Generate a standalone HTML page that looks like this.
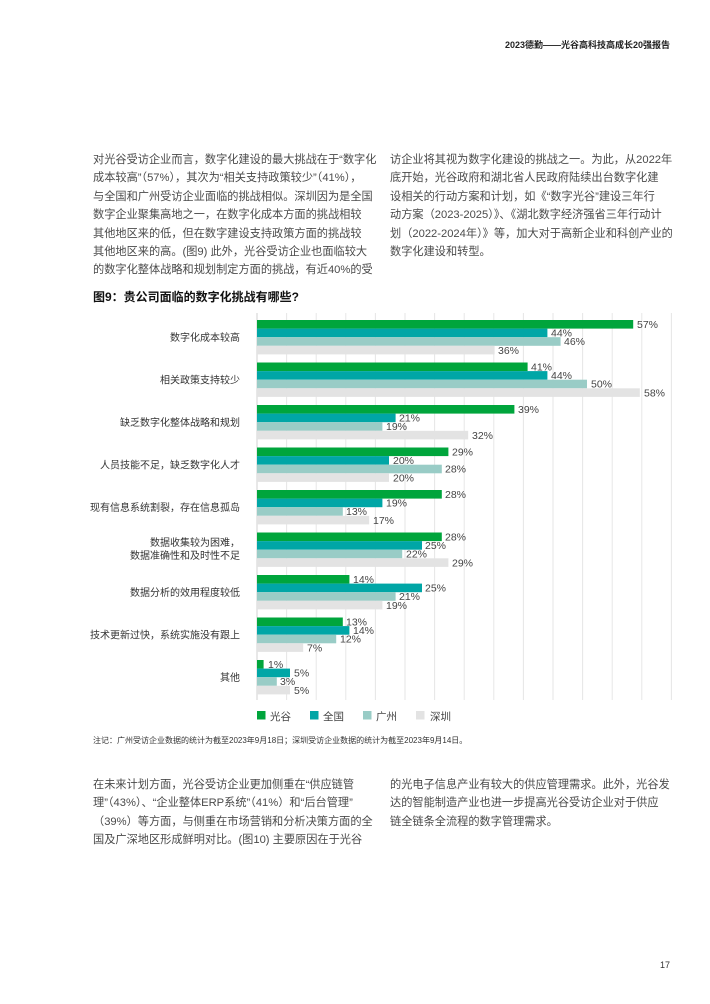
<!DOCTYPE html>
<html><head><meta charset="utf-8"><style>
body{margin:0;background:#fff;}
.pg{position:relative;width:710px;height:1004px;overflow:hidden;font-family:"Liberation Sans","Noto Sans CJK SC",sans-serif;color:#333;}
.t{position:absolute;font-size:11.2px;line-height:18.4px;white-space:nowrap;color:#4a4a4a;}
svg text{font-family:"Liberation Sans","Noto Sans CJK SC",sans-serif;}
</style></head><body><div class="pg">
<div style="position:absolute;right:40px;top:38px;font-size:9px;font-weight:bold;color:#222">2023德勤——光谷高科技高成长20强报告</div>
<div class="t" style="left:93px;top:151px">对光谷受访企业而言，数字化建设的最大挑战在于“数字化<br>成本较高”（57%），其次为“相关支持政策较少”（41%），<br>与全国和广州受访企业面临的挑战相似。深圳因为是全国<br>数字企业聚集高地之一，在数字化成本方面的挑战相较<br>其他地区来的低，但在数字建设支持政策方面的挑战较<br>其他地区来的高。(图9) 此外，光谷受访企业也面临较大<br>的数字化整体战略和规划制定方面的挑战，有近40%的受</div>
<div class="t" style="left:390px;top:151px">访企业将其视为数字化建设的挑战之一。为此，从2022年<br>底开始，光谷政府和湖北省人民政府陆续出台数字化建<br>设相关的行动方案和计划，如《“数字光谷”建设三年行<br>动方案（2023-2025）》、《湖北数字经济强省三年行动计<br>划（2022-2024年）》等，加大对于高新企业和科创产业的<br>数字化建设和转型。</div>
<div style="position:absolute;left:93px;top:288px;font-size:12px;font-weight:bold;color:#111">图9：贵公司面临的数字化挑战有哪些?</div>
<svg style="position:absolute;left:0;top:0" width="710" height="1004">
<g stroke="#e6e6e6" stroke-width="1">
<line x1="286.6" y1="313" x2="286.6" y2="700"/><line x1="316.2" y1="313" x2="316.2" y2="700"/><line x1="345.8" y1="313" x2="345.8" y2="700"/><line x1="375.4" y1="313" x2="375.4" y2="700"/><line x1="405" y1="313" x2="405" y2="700"/><line x1="434.6" y1="313" x2="434.6" y2="700"/><line x1="464.2" y1="313" x2="464.2" y2="700"/><line x1="493.8" y1="313" x2="493.8" y2="700"/><line x1="523.4" y1="313" x2="523.4" y2="700"/><line x1="553" y1="313" x2="553" y2="700"/><line x1="582.6" y1="313" x2="582.6" y2="700"/><line x1="612.2" y1="313" x2="612.2" y2="700"/><line x1="641.8" y1="313" x2="641.8" y2="700"/><line x1="671.4" y1="313" x2="671.4" y2="700"/>
</g>
<line x1="257" y1="313" x2="257" y2="700" stroke="#d0d0d0"/>
<g font-size="10.5" fill="#444">
<rect x="257" y="320" width="376.2" height="8.6" fill="#00a53c"/><rect x="257" y="328.6" width="290.4" height="8.6" fill="#00a6a6"/><rect x="257" y="337.2" width="303.6" height="8.6" fill="#99ccc6"/><rect x="257" y="345.8" width="237.6" height="8.6" fill="#e3e3e3"/>
<text x="637" y="328">57%</text><text x="551" y="336.6">44%</text><text x="564" y="345.2">46%</text><text x="498" y="353.8">36%</text>
<rect x="257" y="362.5" width="270.6" height="8.6" fill="#00a53c"/><rect x="257" y="371.1" width="290.4" height="8.6" fill="#00a6a6"/><rect x="257" y="379.7" width="330" height="8.6" fill="#99ccc6"/><rect x="257" y="388.3" width="382.8" height="8.6" fill="#e3e3e3"/>
<text x="531" y="370.5">41%</text><text x="551" y="379.1">44%</text><text x="591" y="387.7">50%</text><text x="644" y="396.3">58%</text>
<rect x="257" y="405" width="257.4" height="8.6" fill="#00a53c"/><rect x="257" y="413.6" width="138.6" height="8.6" fill="#00a6a6"/><rect x="257" y="422.2" width="125.4" height="8.6" fill="#99ccc6"/><rect x="257" y="430.8" width="211.2" height="8.6" fill="#e3e3e3"/>
<text x="518" y="413">39%</text><text x="399" y="421.6">21%</text><text x="386" y="430.2">19%</text><text x="472" y="438.8">32%</text>
<rect x="257" y="447.5" width="191.4" height="8.6" fill="#00a53c"/><rect x="257" y="456.1" width="132" height="8.6" fill="#00a6a6"/><rect x="257" y="464.7" width="184.8" height="8.6" fill="#99ccc6"/><rect x="257" y="473.3" width="132" height="8.6" fill="#e3e3e3"/>
<text x="452" y="455.5">29%</text><text x="393" y="464.1">20%</text><text x="445" y="472.7">28%</text><text x="393" y="481.3">20%</text>
<rect x="257" y="490" width="184.8" height="8.6" fill="#00a53c"/><rect x="257" y="498.6" width="125.4" height="8.6" fill="#00a6a6"/><rect x="257" y="507.2" width="85.8" height="8.6" fill="#99ccc6"/><rect x="257" y="515.8" width="112.2" height="8.6" fill="#e3e3e3"/>
<text x="445" y="498">28%</text><text x="386" y="506.6">19%</text><text x="346" y="515.2">13%</text><text x="373" y="523.8">17%</text>
<rect x="257" y="532.5" width="184.8" height="8.6" fill="#00a53c"/><rect x="257" y="541.1" width="165" height="8.6" fill="#00a6a6"/><rect x="257" y="549.7" width="145.2" height="8.6" fill="#99ccc6"/><rect x="257" y="558.3" width="191.4" height="8.6" fill="#e3e3e3"/>
<text x="445" y="540.5">28%</text><text x="425" y="549.1">25%</text><text x="406" y="557.7">22%</text><text x="452" y="566.3">29%</text>
<rect x="257" y="575" width="92.4" height="8.6" fill="#00a53c"/><rect x="257" y="583.6" width="165" height="8.6" fill="#00a6a6"/><rect x="257" y="592.2" width="138.6" height="8.6" fill="#99ccc6"/><rect x="257" y="600.8" width="125.4" height="8.6" fill="#e3e3e3"/>
<text x="353" y="583">14%</text><text x="425" y="591.6">25%</text><text x="399" y="600.2">21%</text><text x="386" y="608.8">19%</text>
<rect x="257" y="617.5" width="85.8" height="8.6" fill="#00a53c"/><rect x="257" y="626.1" width="92.4" height="8.6" fill="#00a6a6"/><rect x="257" y="634.7" width="79.2" height="8.6" fill="#99ccc6"/><rect x="257" y="643.3" width="46.2" height="8.6" fill="#e3e3e3"/>
<text x="346" y="625.5">13%</text><text x="353" y="634.1">14%</text><text x="340" y="642.7">12%</text><text x="307" y="651.3">7%</text>
<rect x="257" y="660" width="6.6" height="8.6" fill="#00a53c"/><rect x="257" y="668.6" width="33" height="8.6" fill="#00a6a6"/><rect x="257" y="677.2" width="19.8" height="8.6" fill="#99ccc6"/><rect x="257" y="685.8" width="33" height="8.6" fill="#e3e3e3"/>
<text x="268" y="668">1%</text><text x="294" y="676.6">5%</text><text x="280" y="685.2">3%</text><text x="294" y="693.8">5%</text>
</g>
<g font-size="10" fill="#333" text-anchor="end">
<text x="240" y="341">数字化成本较高</text>
<text x="240" y="383.5">相关政策支持较少</text>
<text x="240" y="426">缺乏数字化整体战略和规划</text>
<text x="240" y="468.5">人员技能不足，缺乏数字化人才</text>
<text x="240" y="511">现有信息系统割裂，存在信息孤岛</text>
<text x="240" y="546">数据收集较为困难，</text>
<text x="240" y="559">数据准确性和及时性不足</text>
<text x="240" y="596">数据分析的效用程度较低</text>
<text x="240" y="638.5">技术更新过快，系统实施没有跟上</text>
<text x="240" y="681">其他</text>
</g>
<g font-size="10.5" fill="#444">
<rect x="257" y="711" width="8.5" height="8.5" fill="#00a53c"/><text x="270" y="720">光谷</text>
<rect x="310" y="711" width="8.5" height="8.5" fill="#00a6a6"/><text x="323" y="720">全国</text>
<rect x="363" y="711" width="8.5" height="8.5" fill="#99ccc6"/><text x="376" y="720">广州</text>
<rect x="416" y="711" width="8.5" height="8.5" fill="#e3e3e3"/><text x="430" y="720">深圳</text>
</g>
</svg>
<div style="position:absolute;left:93px;top:735px;font-size:8px;color:#333;white-space:nowrap">注记：广州受访企业数据的统计为截至2023年9月18日；深圳受访企业数据的统计为截至2023年9月14日。</div>
<div class="t" style="left:93px;top:776px">在未来计划方面，光谷受访企业更加侧重在“供应链管<br>理”（43%）、“企业整体ERP系统”（41%）和“后台管理”<br>（39%）等方面，与侧重在市场营销和分析决策方面的全<br>国及广深地区形成鲜明对比。(图10) 主要原因在于光谷</div>
<div class="t" style="left:390px;top:776px">的光电子信息产业有较大的供应管理需求。此外，光谷发<br>达的智能制造产业也进一步提高光谷受访企业对于供应<br>链全链条全流程的数字管理需求。</div>
<div style="position:absolute;left:660px;top:960px;font-size:9px;color:#333">17</div>
</div></body></html>
